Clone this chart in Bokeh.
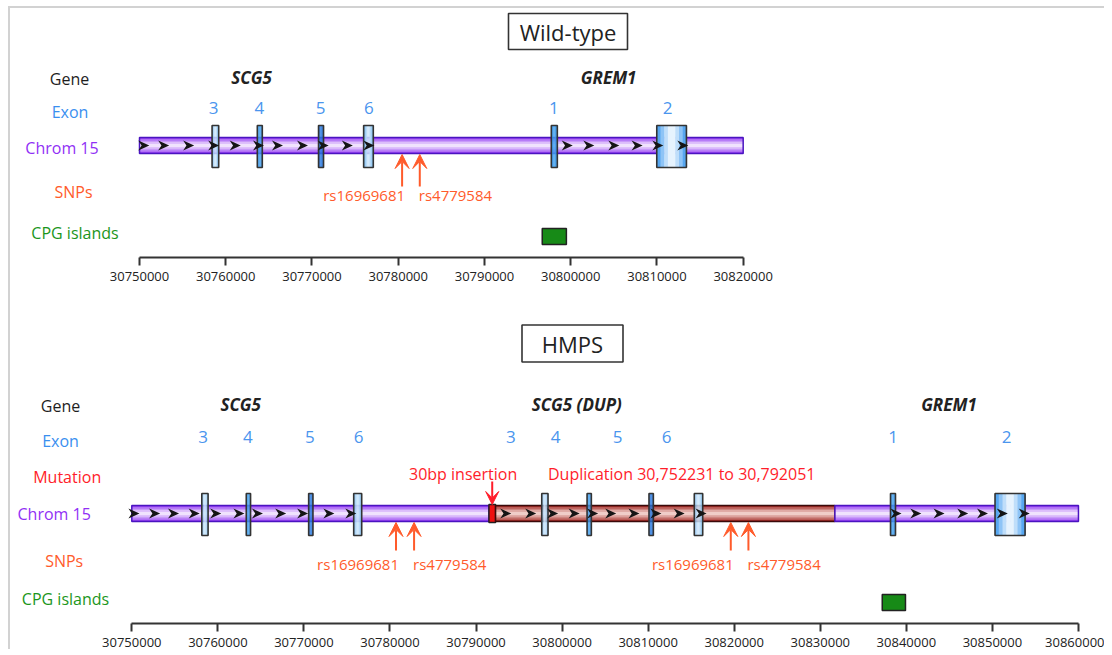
from bokeh.plotting import figure
from bokeh.layouts import column
from bokeh.models import (Range1d, FixedTicker, NumeralTickFormatter, Arrow, VeeHead,
                          ColumnDataSource)
from bokeh.core.properties import value
from bokeh.embed import file_html
from bokeh.resources import INLINE

FONT = "Open Sans"

# ------------------------------------------------------------------ data
TOP_TITLE = "Wild-type"
BOT_TITLE = "HMPS"

TOP_ROWS = ["Gene", "Exon", "Chrom 15", "SNPs", "CPG islands"]
BOT_ROWS = ["Gene", "Exon", "Mutation", "Chrom 15", "SNPs", "CPG islands"]

TOP_TICKS = [30750000, 30760000, 30770000, 30780000, 30790000, 30800000,
             30810000, 30820000]
BOT_TICKS = [30750000, 30760000, 30770000, 30780000, 30790000, 30800000,
             30810000, 30820000, 30830000, 30840000, 30850000, 30860000]

TOP_GENES = ["SCG5", "GREM1"]
TOP_GENE_POS = [30763000, 30804400]
BOT_GENES = ["SCG5", "SCG5 (DUP)", "GREM1"]
BOT_GENE_POS = [30762650, 30801700, 30844950]

TOP_EXON_NAMES = ["3", "4", "5", "6", "1", "2"]
TOP_EXON_LABEL_POS = [30758600, 30763900, 30771000, 30776600, 30798050, 30811250]
TOP_EXON_CENTER = [30758800, 30763950, 30771050, 30776550, 30798100, 30811700]
TOP_EXON_WIDTH = [770, 580, 580, 1120, 700, 3440]
TOP_EXON_KIND = ["light", "mid", "dark", "light", "mid", "big"]

BOT_EXON_NAMES = ["3", "4", "5", "6", "3", "4", "5", "6", "1", "2"]
BOT_EXON_LABEL_POS = [30758300, 30763500, 30770700, 30776350, 30794050,
                      30799250, 30806450, 30812150, 30838450, 30851650]
BOT_EXON_CENTER = [30758500, 30763550, 30770800, 30776250, 30798000,
                   30803150, 30810350, 30815850, 30838450, 30852050]
BOT_EXON_WIDTH = [730, 500, 500, 930, 730, 500, 510, 980, 580, 3490]
BOT_EXON_KIND = ["light", "mid", "dark", "light", "light", "mid", "dark",
                 "light", "mid", "big"]

TOP_SEG_START = [30750000]
TOP_SEG_END = [30820000]
TOP_SEG_KIND = ["normal"]
BOT_SEG_START = [30750000, 30791500, 30792270, 30831700]
BOT_SEG_END = [30791500, 30792270, 30831700, 30860000]
BOT_SEG_KIND = ["normal", "insertion", "duplication", "normal"]

TOP_STRAND = [30750500, 30752800, 30755700, 30758600, 30761100, 30763800,
              30766000, 30768900, 30771300, 30774100, 30776600,
              30799600, 30802100, 30805000, 30807700, 30810100, 30813000]
BOT_STRAND = [30750250, 30752650, 30754850, 30757250, 30759750, 30762450,
              30764600, 30767300, 30769850, 30772900, 30775450,
              30793450, 30796350, 30798900, 30801400, 30803550, 30805650,
              30808350, 30810900, 30813600, 30816150,
              30838800, 30841100, 30843800, 30846550, 30848850, 30851150,
              30853700]

TOP_SNP_NAMES = ["rs16969681", "rs4779584"]
TOP_SNP_POS = [30780450, 30782500]
BOT_SNP_NAMES = ["rs16969681", "rs4779584", "rs16969681", "rs4779584"]
BOT_SNP_POS = [30780700, 30782800, 30819600, 30821650]

TOP_CPG_START = [30796700]
TOP_CPG_END = [30799500]
BOT_CPG_START = [30837200]
BOT_CPG_END = [30839900]

MUTATION_TEXT = ["30bp insertion", "Duplication 30,752231 to 30,792051"]
MUTATION_POS = [30788500, 30813900]
INSERTION_POS = [30791880]

# ------------------------------------------------------------------ styles
ROW_COLORS = {"Gene": "#1e1e1e", "Exon": "#3a8fef", "Mutation": "#ff1d2a",
              "Chrom 15": "#9130f5", "SNPs": "#ff5b2b", "CPG islands": "#1b961b"}
EXON_COLORS = {"light": ("#74b8ee", "#d2e9fc"), "mid": ("#2a88e4", "#45a2ee"),
               "dark": ("#1460cf", "#2a7ce0"), "big": ("#3a98ee", "#f2f9ff")}
SEG_COLORS = {"normal": ("#8b2cf2", "#f7eefe", "#4a14c0"),
              "duplication": ("#9a1712", "#f6d9d4", "#3a0a0a"),
              "insertion": ("#ee1010", "#ff2a2a", "#222222")}
SNP_COLOR = "#ff5b2b"
MUT_COLOR = "#ff1d2a"
EXON_NUM_COLOR = "#4a95ee"

ORIGIN_X = 10   # page x of the frames' left edge
ORIGIN_Y = 8    # page y of the top figure


def hexrgb(c):
    c = c.lstrip("#")
    return tuple(int(c[i:i + 2], 16) for i in (0, 2, 4))


def lerp(c1, c2, t):
    a, b = hexrgb(c1), hexrgb(c2)
    return "#%02x%02x%02x" % tuple(int(round(a[i] + (b[i] - a[i]) * t)) for i in range(3))


def make_panel(x0_px, px_per_10k, frame_top, frame_bottom, border_bottom, ticks, bounds):
    k = 10000.0 / px_per_10k

    def bp(px):
        return 30750000 + (px - x0_px) * k

    p = figure(frame_width=1094, frame_height=frame_bottom - frame_top,
               x_range=Range1d(bp(ORIGIN_X), bp(ORIGIN_X + 1094)),
               y_range=Range1d(frame_bottom, frame_top),
               output_backend="svg", toolbar_location=None, y_axis_location=None,
               min_border_left=0, min_border_right=0, min_border_top=0,
               min_border_bottom=border_bottom)
    p.outline_line_color = None
    p.grid.visible = False
    p.background_fill_color = "white"
    p.border_fill_color = "white"
    ax = p.xaxis[0]
    ax.ticker = FixedTicker(ticks=ticks)
    ax.formatter = NumeralTickFormatter(format="0")
    ax.bounds = bounds
    ax.axis_line_width = 2
    ax.axis_line_color = "#333333"
    ax.major_tick_line_width = 2
    ax.major_tick_line_color = "#333333"
    ax.major_tick_in = 0
    ax.major_tick_out = 8
    ax.minor_tick_line_color = None
    ax.major_label_text_font = FONT
    ax.major_label_text_font_size = "13px"
    ax.major_label_text_color = "#222222"
    ax.major_label_standoff = 6
    return p, bp, k


def draw_title(p, bp, text, cx, cy, w, h):
    p.rect(x=[bp(cx)], y=[cy], width=w, height=h, width_units="screen",
           height_units="screen", fill_color="white", line_color="#333333", line_width=1.6)
    p.text(x=[bp(cx)], y=[cy], text=[text], text_font=value(FONT), text_font_size="22px",
           text_align="center", text_baseline="middle", text_color="#222222")


def draw_rows(p, bp, rows, xs_px, ys):
    src = ColumnDataSource(dict(x=[bp(v) for v in xs_px], y=ys, t=rows,
                                c=[ROW_COLORS[r] for r in rows]))
    p.text(x="x", y="y", text="t", text_color="c", source=src, text_font=value(FONT),
           text_font_size="16px", text_align="center", text_baseline="middle")


def draw_genes(p, names, pos, y):
    p.text(x=pos, y=[y] * len(pos), text=names, text_font=value(FONT),
           text_font_size="17px", text_font_style="bold italic", text_color="#222222",
           text_align="center", text_baseline="middle")


def draw_segments(p, starts, ends, kinds, yc, n=10):
    for s, e, kd in zip(starts, ends, kinds):
        edge, mid, outline = SEG_COLORS[kd]
        h = 18 if kd == "insertion" else 16
        if kd == "insertion":
            p.quad(left=[s], right=[e], top=[yc - h / 2], bottom=[yc + h / 2],
                   fill_color=edge, line_color=outline, line_width=1.5)
            continue
        for i in range(n):
            y0 = yc - h / 2 + i * h / n
            t = abs((i + 0.5) / n - 0.5) / 0.5
            p.quad(left=[s], right=[e], top=[y0], bottom=[y0 + h / n + 0.4],
                   fill_color=lerp(mid, edge, t ** 1.2), line_color=None)
        p.quad(left=[s], right=[e], top=[yc - h / 2], bottom=[yc + h / 2],
               fill_color=None, line_color=outline, line_width=1.5)


def draw_exons(p, centers, widths, kinds, yc, h=42, n=8):
    lefts = [c - w / 2 for c, w in zip(centers, widths)]
    for i in range(n):
        t = abs((i + 0.5) / n - 0.5) / 0.5
        ls = [l + w * i / n for l, w in zip(lefts, widths)]
        rs = [l + w * (i + 1) / n + w * 0.02 for l, w in zip(lefts, widths)]
        cols = [lerp(EXON_COLORS[kd][1], EXON_COLORS[kd][0], t ** 1.3) for kd in kinds]
        p.quad(left=ls, right=rs, top=[yc - h / 2] * len(ls), bottom=[yc + h / 2] * len(ls),
               fill_color=cols, line_color=None)
    p.quad(left=lefts, right=[l + w for l, w in zip(lefts, widths)],
           top=[yc - h / 2] * len(lefts), bottom=[yc + h / 2] * len(lefts),
           fill_color=None, line_color="#333333", line_width=1.6)


def draw_strand(p, pos, yc, k):
    xs = [[x + 5.5 * k, x - 5.5 * k, x - 2.2 * k, x - 5.5 * k] for x in pos]
    ys = [[yc, yc - 5, yc, yc + 5] for _ in pos]
    p.patches(xs=xs, ys=ys, fill_color="#151515", line_color=None)


def draw_snps(p, names, pos, y_tail, y_tip, y_lab):
    src = ColumnDataSource(dict(x=pos, y0=[y_tail] * len(pos), y1=[y_tip] * len(pos)))
    p.add_layout(Arrow(end=VeeHead(size=14, fill_color=SNP_COLOR, line_color=SNP_COLOR),
                       x_start="x", y_start="y0", x_end="x", y_end="y1", source=src,
                       line_color=SNP_COLOR, line_width=2))
    right = [(n_, x) for n_, x in zip(names, pos) if n_ == "rs16969681"]
    left = [(n_, x) for n_, x in zip(names, pos) if n_ != "rs16969681"]
    p.text(x=[x for _, x in right], y=[y_lab] * len(right), text=[n_ for n_, _ in right],
           x_offset=3, text_align="right", text_baseline="middle", text_font=value(FONT),
           text_font_size="15px", text_color=SNP_COLOR)
    p.text(x=[x for _, x in left], y=[y_lab] * len(left), text=[n_ for n_, _ in left],
           x_offset=-1, text_align="left", text_baseline="middle", text_font=value(FONT),
           text_font_size="15px", text_color=SNP_COLOR)


def draw_exon_numbers(p, names, pos, y):
    p.text(x=pos, y=[y] * len(pos), text=names, text_font=value(FONT),
           text_font_size="17px", text_color=EXON_NUM_COLOR, text_align="center",
           text_baseline="middle")


def draw_cpg(p, starts, ends, y0, y1):
    p.quad(left=starts, right=ends, top=[y0] * len(starts), bottom=[y1] * len(starts),
           fill_color="#178a17", line_color="#222222", line_width=1.5)


# ------------------------------------------------------------------ top panel
p1, bp1, k1 = make_panel(139.0, 86.24, ORIGIN_Y, 257, 49, TOP_TICKS, (30750000, 30820000))
draw_title(p1, bp1, TOP_TITLE, 567.5, 31, 119, 36)
draw_rows(p1, bp1, TOP_ROWS, [69, 69.5, 61.5, 73, 74.5], [78, 111.5, 147, 191.5, 232])
draw_genes(p1, TOP_GENES, TOP_GENE_POS, 77)
draw_exon_numbers(p1, TOP_EXON_NAMES, TOP_EXON_LABEL_POS, 107)
draw_segments(p1, TOP_SEG_START, TOP_SEG_END, TOP_SEG_KIND, 145)
draw_exons(p1, TOP_EXON_CENTER, TOP_EXON_WIDTH, TOP_EXON_KIND, 146)
draw_strand(p1, TOP_STRAND, 145, k1)
draw_snps(p1, TOP_SNP_NAMES, TOP_SNP_POS, 186, 154, 194)
draw_cpg(p1, TOP_CPG_START, TOP_CPG_END, 228, 244)

# ------------------------------------------------------------------ bottom panel
p2, bp2, k2 = make_panel(131.3, 86.06, 306, 623, 0, BOT_TICKS, (30750000, 30860000))
draw_title(p2, bp2, BOT_TITLE, 572, 343, 101, 37)
draw_rows(p2, bp2, BOT_ROWS, [60, 60, 66.7, 53.7, 63.7, 65],
          [405, 440.7, 476.7, 513.3, 560, 598.3])
draw_genes(p2, BOT_GENES, BOT_GENE_POS, 404)
draw_exon_numbers(p2, BOT_EXON_NAMES, BOT_EXON_LABEL_POS, 436)
p2.text(x=MUTATION_POS, y=[473] * len(MUTATION_POS), text=MUTATION_TEXT,
        text_font=value(FONT), text_font_size="16px", text_color=MUT_COLOR,
        text_align="center", text_baseline="middle")
draw_segments(p2, BOT_SEG_START, BOT_SEG_END, BOT_SEG_KIND, 513)
draw_exons(p2, BOT_EXON_CENTER, BOT_EXON_WIDTH, BOT_EXON_KIND, 514)
draw_strand(p2, BOT_STRAND, 513, k2)
draw_snps(p2, BOT_SNP_NAMES, BOT_SNP_POS, 550, 522, 563)
ins_src = ColumnDataSource(dict(x=INSERTION_POS, y0=[481] * len(INSERTION_POS),
                                y1=[504] * len(INSERTION_POS)))
p2.add_layout(Arrow(end=VeeHead(size=13, fill_color=MUT_COLOR, line_color=MUT_COLOR),
                    x_start="x", y_start="y0", x_end="x", y_end="y1", source=ins_src,
                    line_color=MUT_COLOR, line_width=2))
draw_cpg(p2, BOT_CPG_START, BOT_CPG_END, 594, 610)

layout = column(p1, p2, spacing=0,
                styles={"border-left": "2px solid #d2d2d2", "border-top": "2px solid #d2d2d2",
                        "margin-left": "8px", "margin-top": "6px"})

open("out.html", "w").write(file_html(layout, INLINE))
